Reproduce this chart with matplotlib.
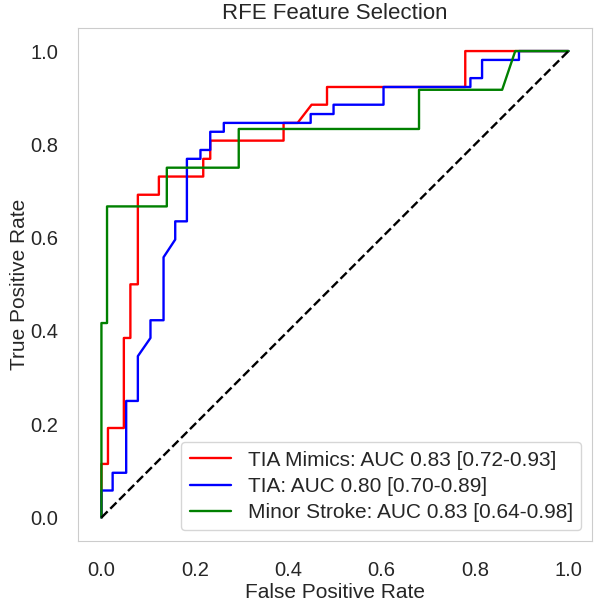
import matplotlib
matplotlib.use("Agg")
import matplotlib.pyplot as plt
import seaborn as sns

# ROC curves (FPR, TPR)
mimics_fpr = [0.0, 0.0, 0.014, 0.014, 0.048, 0.048, 0.062, 0.062, 0.078, 0.078,
              0.123, 0.123, 0.218, 0.218, 0.233, 0.233, 0.39, 0.39, 0.42, 0.45,
              0.483, 0.483, 0.779, 0.779, 1.0]
mimics_tpr = [0.0, 0.115, 0.115, 0.192, 0.192, 0.385, 0.385, 0.5, 0.5, 0.692,
              0.692, 0.731, 0.731, 0.769, 0.769, 0.808, 0.808, 0.846, 0.846, 0.885,
              0.885, 0.923, 0.923, 1.0, 1.0]

tia_fpr = [0.0, 0.0, 0.024, 0.024, 0.053, 0.053, 0.078, 0.078, 0.105, 0.105,
           0.133, 0.133, 0.158, 0.158, 0.183, 0.183, 0.212, 0.212, 0.233, 0.233,
           0.262, 0.262, 0.448, 0.448, 0.497, 0.497, 0.604, 0.604, 0.79, 0.79,
           0.815, 0.815, 0.894, 0.894, 1.0]
tia_tpr = [0.0, 0.058, 0.058, 0.096, 0.096, 0.25, 0.25, 0.346, 0.385, 0.423,
           0.423, 0.558, 0.596, 0.635, 0.635, 0.769, 0.769, 0.788, 0.788, 0.827,
           0.827, 0.846, 0.846, 0.865, 0.865, 0.885, 0.885, 0.923, 0.923, 0.942,
           0.942, 0.981, 0.981, 1.0, 1.0]

minor_fpr = [0.0, 0.0, 0.012, 0.012, 0.14, 0.14, 0.294, 0.294, 0.68, 0.68,
             0.858, 0.886, 1.0]
minor_tpr = [0.0, 0.417, 0.417, 0.667, 0.667, 0.75, 0.75, 0.833, 0.833, 0.917,
             0.917, 1.0, 1.0]

labels = ["TIA Mimics: AUC 0.83 [0.72-0.93]",
          "TIA: AUC 0.80 [0.70-0.89]",
          "Minor Stroke: AUC 0.83 [0.64-0.98]"]
colors = ["red", "blue", "green"]

sns.set_style("whitegrid")
plt.rcParams["font.family"] = ["Liberation Sans", "DejaVu Sans"]

fig = plt.figure(figsize=(5.96, 6.03), dpi=100)
ax = fig.add_axes([0.131, 0.103, 0.862, 0.851])

curves = [(mimics_fpr, mimics_tpr), (tia_fpr, tia_tpr), (minor_fpr, minor_tpr)]
for (fpr, tpr), lab, col in zip(curves, labels, colors):
    ax.plot(fpr, tpr, color=col, lw=1.7, label=lab)
ax.plot([0, 1], [0, 1], "k--", lw=1.7)

ax.grid(False)
ax.set_xticks([0.0, 0.2, 0.4, 0.6, 0.8, 1.0])
ax.set_yticks([0.0, 0.2, 0.4, 0.6, 0.8, 1.0])
ax.tick_params(labelsize=14.5, pad=11)
ax.set_xlabel("False Positive Rate", fontsize=15, labelpad=2)
ax.set_ylabel("True Positive Rate", fontsize=15, labelpad=1)
ax.set_title("RFE Feature Selection", fontsize=16, pad=6)
ax.legend(loc="lower right", fontsize=15, labelspacing=0.35)

fig.savefig("out.png", dpi=100)
